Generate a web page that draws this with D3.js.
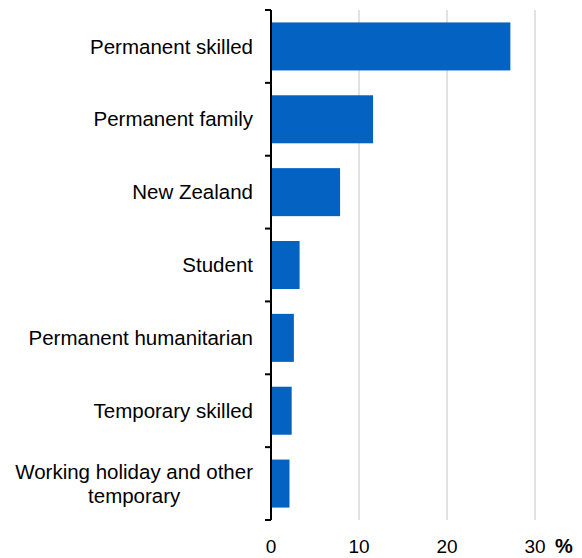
<!DOCTYPE html>
<html>
<head>
<meta charset="utf-8">
<script src="https://cdn.jsdelivr.net/npm/d3@7"></script>
<style>
  html, body { margin: 0; padding: 0; background: #ffffff; }
  svg { display: block; }
  text { font-family: "Liberation Sans", Arial, sans-serif; fill: #000; }
</style>
</head>
<body>
<svg id="chart" width="582" height="558"></svg>
<script>
const categories = [
  ["Permanent skilled"],
  ["Permanent family"],
  ["New Zealand"],
  ["Student"],
  ["Permanent humanitarian"],
  ["Temporary skilled"],
  ["Working holiday and other", "temporary"]
];
const values = [27.2, 11.6, 7.85, 3.25, 2.6, 2.35, 2.1];
const xTicks = [0, 10, 20, 30];
const unitLabel = "%";

const svg = d3.select("#chart");
const keys = categories.map(c => c.join(" "));

const x = d3.scaleLinear().domain([0, 30]).range([271, 535]);
const y = d3.scaleBand().domain(keys).range([10, 520])
  .paddingInner(0.341).paddingOuter(0.1705);

// gridlines
svg.append("g").selectAll("line")
  .data(xTicks.filter(t => t > 0))
  .join("line")
  .attr("x1", d => x(d)).attr("x2", d => x(d))
  .attr("y1", 10).attr("y2", 520)
  .attr("stroke", "#d9d9d9").attr("stroke-width", 1.5);

// bars
svg.append("g").selectAll("rect")
  .data(values)
  .join("rect")
  .attr("x", x(0))
  .attr("y", (d, i) => y(keys[i]))
  .attr("width", d => x(d) - x(0))
  .attr("height", y.bandwidth())
  .attr("fill", "#0463c2");

// y axis line and boundary ticks
const step = y.step();
const y0 = y.range()[0];
const bounds = d3.range(keys.length + 1).map(i => y0 + i * step);
svg.append("line")
  .attr("x1", x(0)).attr("x2", x(0))
  .attr("y1", bounds[0]).attr("y2", bounds[bounds.length - 1])
  .attr("stroke", "#000").attr("stroke-width", 2);
svg.append("g").selectAll("line")
  .data(bounds)
  .join("line")
  .attr("x1", x(0) - 6).attr("x2", x(0))
  .attr("y1", d => d).attr("y2", d => d)
  .attr("stroke", "#000").attr("stroke-width", 2);

// category labels
const labelX = 253;
const fs = 20.5;
categories.forEach((lines, i) => {
  const cy = y(keys[i]) + y.bandwidth() / 2;
  const lh = 24;
  const startY = cy - (lines.length - 1) * lh / 2;
  const first = svg.append("text")
    .attr("x", labelX).attr("y", startY).attr("dy", "0.35em")
    .attr("text-anchor", "end").attr("font-size", fs)
    .text(lines[0]);
  if (lines.length > 1) {
    const bb = first.node().getBBox();
    const mid = bb.x + bb.width / 2;
    lines.slice(1).forEach((ln, j) => {
      svg.append("text")
        .attr("x", mid).attr("y", startY + (j + 1) * lh).attr("dy", "0.35em")
        .attr("text-anchor", "middle").attr("font-size", fs)
        .text(ln);
    });
  }
});

// x tick labels
svg.append("g").selectAll("text")
  .data(xTicks)
  .join("text")
  .attr("x", d => x(d)).attr("y", 553)
  .attr("text-anchor", "middle").attr("font-size", 19)
  .text(d => d);

svg.append("text")
  .attr("x", 555).attr("y", 553)
  .attr("font-size", 20).attr("font-weight", "bold")
  .text(unitLabel);
</script>
</body>
</html>
